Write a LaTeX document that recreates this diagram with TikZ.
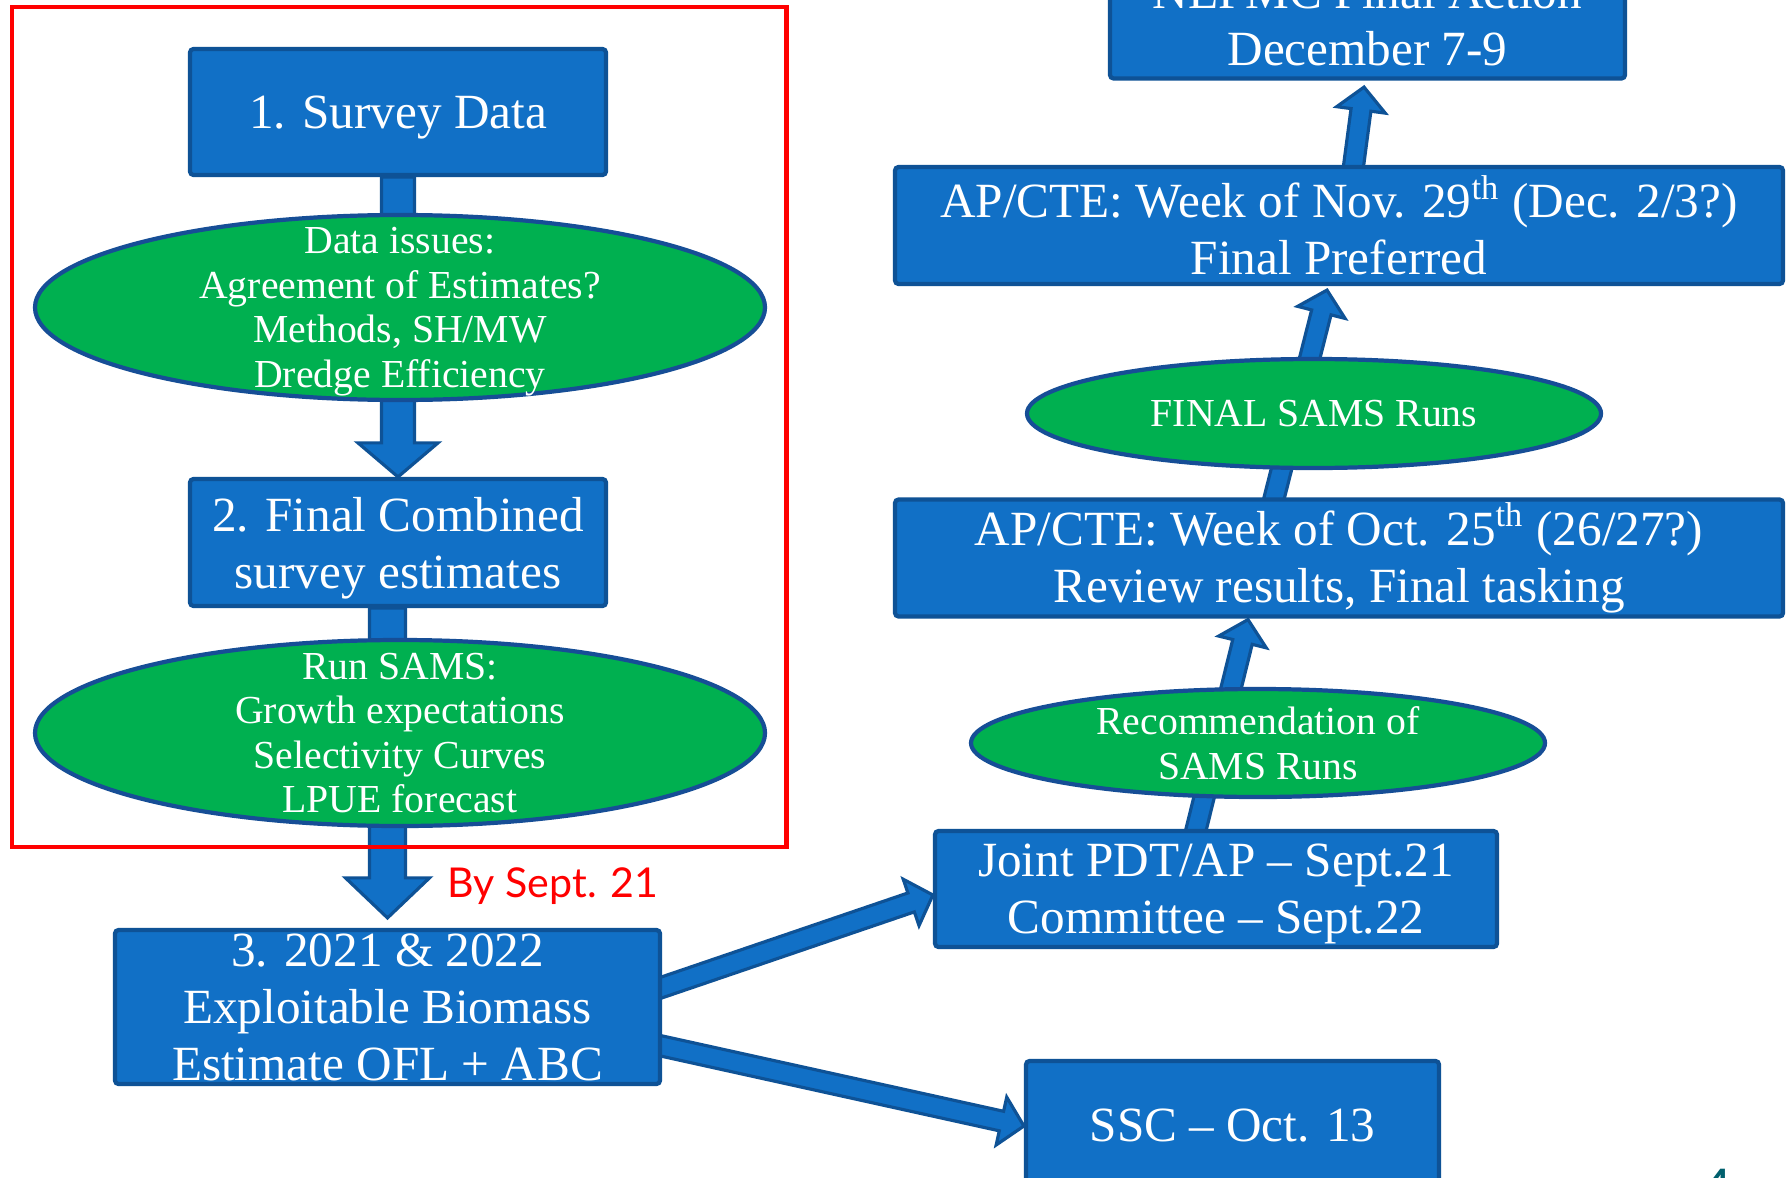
\documentclass[tikz,border=0pt]{standalone}
\usepackage{fontspec}
\setmainfont{Liberation Serif}
\newfontfamily\bysans{Lato}
\usepackage{tikz}
\usetikzlibrary{calc,positioning,backgrounds,shapes}

\definecolor{boxblue}{RGB}{17,112,198}
\definecolor{boxline}{RGB}{14,82,150}
\definecolor{ellgreen}{RGB}{0,176,80}
\definecolor{ellline}{RGB}{22,78,150}
\definecolor{pageteal}{RGB}{0,96,110}

\tikzset{
  box/.style={rectangle, draw=boxline, fill=boxblue, line width=1.2pt, rounded corners=1pt,
    text=white, align=center, inner sep=0pt, font=\fontsize{14}{16.2}\selectfont},
  ell/.style={ellipse, draw=ellline, fill=ellgreen, line width=1.2pt, inner sep=0pt},
  elltext/.style={text=white, align=center, inner sep=0pt, font=\fontsize{11.3}{12.7}\selectfont},
  flowarrow/.style={draw=boxline, fill=boxblue, line width=0.9pt, line join=miter},
  redframe/.style={draw=red, line width=1.4pt},
  bytext/.style={text=red, inner sep=0pt, font=\bysans\fontsize{11.7}{14}\selectfont}
}

% start, tip, shaft half width, head half width, head length
\newcommand{\blockarrow}[5]{%
  \coordinate (bahead) at ($(#2)!#5!(#1)$);
  \draw[flowarrow] ($(#1)!#3!90:(#2)$) -- ($(bahead)!#3!90:(#2)$) -- ($(bahead)!#4!90:(#2)$)
    -- (#2) -- ($(bahead)!#4!-90:(#2)$) -- ($(bahead)!#3!-90:(#2)$) -- ($(#1)!#3!-90:(#2)$) -- cycle;
}

\begin{document}
\begin{tikzpicture}
\useasboundingbox (0,0) rectangle (17.90,-11.78);
\clip (0,0) rectangle (17.90,-11.78);

% left column
\node[box, text depth=0pt, minimum width=4.16cm, minimum height=1.26cm] (survey) at (3.98,-1.12) {1. Survey Data};
\node[ell, minimum width=7.30cm, minimum height=1.85cm] (issues) at (4.00,-3.075) {};
\node[elltext] (issuestext) at ([yshift=-0.4mm]issues.center) {Data issues:\\Agreement of Estimates?\\Methods, SH/MW\\Dredge Efficiency};
\node[box, text depth=0pt, minimum width=4.16cm, minimum height=1.27cm] (combined) at (3.98,-5.425) {2. Final Combined\\survey estimates};
\node[ell, minimum width=7.30cm, minimum height=1.86cm] (runsams) at (4.00,-7.33) {};
\node[elltext] (runsamstext) at (runsams) {Run SAMS:\\Growth expectations\\Selectivity Curves\\LPUE forecast};
\node[box, minimum width=5.45cm, minimum height=1.54cm] (biomass) at (3.875,-10.07) {3. 2021 \& 2022\\Exploitable Biomass\\Estimate OFL + ABC};

% right column
\node[box, text depth=0pt, minimum width=5.62cm, minimum height=1.16cm] (joint) at (12.16,-8.89) {Joint PDT/AP -- Sept.21\\Committee -- Sept.22};
\node[box, minimum width=4.13cm, minimum height=1.30cm] (ssc) at (12.325,-11.26) {SSC -- Oct. 13};
\node[ell, minimum width=5.74cm, minimum height=1.08cm] (recommend) at (12.58,-7.43) {};
\node[elltext] (recommendtext) at (recommend) {Recommendation of\\SAMS Runs};
\node[box, minimum width=8.88cm, minimum height=1.17cm] (octcte) at (13.39,-5.58) {AP/CTE: Week of Oct. 25\textsuperscript{th} (26/27?)\\Review results, Final tasking};
\node[ell, minimum width=5.74cm, minimum height=1.09cm] (finalsams) at (13.14,-4.135) {};
\node[elltext] (finalsamstext) at (finalsams) {FINAL SAMS Runs};
\node[box, minimum width=8.88cm, minimum height=1.17cm] (novcte) at (13.39,-2.255) {AP/CTE: Week of Nov. 29\textsuperscript{th} (Dec. 2/3?)\\Final Preferred};
\node[box, minimum width=5.15cm, minimum height=1.17cm] (nefmc) at (13.675,-0.20) {NEFMC Final Action\\December 7-9};

\coordinate (a2s) at (combined.south -| biomass.north);
\coordinate (a2e) at ($(biomass.north)+(0,0.1)$);
\coordinate (a3s) at ($(biomass.east)+(-0.05,0.18)$);
\coordinate (a3e) at ($(joint.west)+(0,-0.06)$);
\coordinate (a4s) at ($(biomass.east)+(-0.05,-0.38)$);
\coordinate (a5s) at ($(joint.north)+(-0.21,-0.05)$);
\coordinate (a5e) at ($(octcte.south)+(-0.91,-0.01)$);
\coordinate (a6s) at ($(octcte.north)+(-0.66,-0.05)$);
\coordinate (a6e) at ($(novcte.south)+(-0.12,-0.04)$);
\coordinate (a7s) at ($(novcte.north)+(0.14,-0.05)$);
\coordinate (a7e) at ($(nefmc.south)+(-0.035,-0.065)$);

\begin{scope}[on background layer]
\fill[white] (0,0) rectangle (17.90,-11.78);
\blockarrow{survey.south}{combined.north}{0.165cm}{0.40cm}{0.34cm}
\blockarrow{a2s}{a2e}{0.18cm}{0.42cm}{0.40cm}
\blockarrow{a3s}{a3e}{0.10cm}{0.245cm}{0.23cm}
\blockarrow{a4s}{ssc.west}{0.10cm}{0.245cm}{0.23cm}
\blockarrow{a5s}{a5e}{0.10cm}{0.245cm}{0.23cm}
\blockarrow{a6s}{a6e}{0.10cm}{0.245cm}{0.23cm}
\blockarrow{a7s}{a7e}{0.10cm}{0.245cm}{0.23cm}
\end{scope}

\draw[redframe] (0.12,-0.07) rectangle (7.865,-8.47);
\node[bytext, anchor=base west] (bysept) at (4.47,-8.97) {By Sept. 21};
\node[anchor=north, inner sep=0pt, text=pageteal, font=\bysans\fontsize{16}{18}\selectfont] (pagenum) at (17.17,-11.68) {4};
\end{tikzpicture}
\end{document}
